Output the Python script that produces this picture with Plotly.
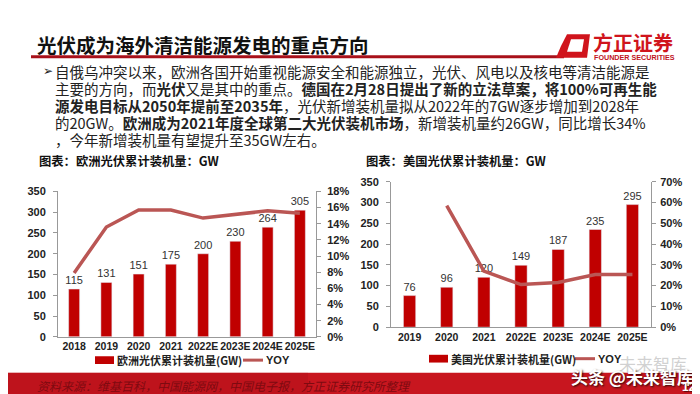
import plotly.graph_objects as go

W, H = 700, 394

# ---------------- data ----------------
eu_years = ["2018", "2019", "2020", "2021", "2022E", "2023E", "2024E", "2025E"]
eu_capacity = [115, 131, 151, 175, 200, 230, 264, 305]
eu_yoy = [7.9, 13.6, 15.7, 15.7, 14.7, 15.1, 15.6, 15.3]

us_years = ["2019", "2020", "2021", "2022E", "2023E", "2024E", "2025E"]
us_capacity = [76, 96, 120, 149, 187, 235, 295]
us_yoy = [None, 58.5, 27.0, 20.5, 21.5, 25.3, 25.3]

title_text = "光伏成为海外清洁能源发电的重点方向"
body_lines = [
    "自俄乌冲突以来，欧洲各国开始重视能源安全和能源独立，光伏、风电以及核电等清洁能源是",
    "主要的方向，而<b>光伏</b>又是其中的重点。<b>德国在2月28日提出了新的立法草案，将100%可再生能</b>",
    "<b>源发电目标从2050年提前至2035年</b>，光伏新增装机量拟从2022年的7GW逐步增加到2028年",
    "的20GW。<b>欧洲成为2021年度全球第二大光伏装机市场</b>，新增装机量约26GW，同比增长34%",
    "，今年新增装机量有望提升至35GW左右。",
]
eu_title = "图表：欧洲光伏累计装机量：GW"
us_title = "图表：美国光伏累计装机量：GW"
eu_bar_name = "欧洲光伏累计装机量(GW)"
us_bar_name = "美国光伏累计装机量(GW)"
line_name = "YOY"
source_text = "资料来源：维基百科，中国能源网，中国电子报，方正证券研究所整理"

# ---------------- styles ----------------
BAR = "#C00000"
LINE = "#BA5654"
AXIS = "#999999"
CJK = "Noto Sans CJK SC"
LAT = "Liberation Sans"


def px(x):
    return x / W


def py(y):
    return 1 - y / H


fig = go.Figure()

# Europe chart
fig.add_trace(go.Bar(x=eu_years, y=eu_capacity, name=eu_bar_name, marker_color=BAR,
                     width=0.34, text=eu_capacity, textposition="outside",
                     constraintext="none",
                     textfont=dict(family=LAT, size=11, color="#333"), cliponaxis=False,
                     xaxis="x", yaxis="y"))
fig.add_trace(go.Scatter(x=eu_years, y=eu_yoy, name=line_name, mode="lines",
                         line=dict(color=LINE, width=3.5), xaxis="x", yaxis="y2"))

# US chart
fig.add_trace(go.Bar(x=us_years, y=us_capacity, name=us_bar_name, marker_color=BAR,
                     width=0.33, text=us_capacity, textposition="outside",
                     constraintext="none",
                     textfont=dict(family=LAT, size=11, color="#333"), cliponaxis=False,
                     xaxis="x2", yaxis="y3"))
fig.add_trace(go.Scatter(x=us_years, y=us_yoy, name=line_name, mode="lines",
                         line=dict(color=LINE, width=3.5), connectgaps=False,
                         xaxis="x2", yaxis="y4"))

tickf = dict(family=LAT, size=11, color="#222", weight="bold")
tickx = dict(family=LAT, size=10.5, color="#222", weight="bold")
common_y = dict(showline=True, linecolor=AXIS, linewidth=1, ticks="outside", ticklen=4,
                tickcolor=AXIS, showgrid=False, zeroline=False, tickfont=tickf,
                fixedrange=True)
common_x = dict(type="category", showline=True, linecolor=AXIS, linewidth=1, ticks="",
                showgrid=False, tickfont=tickx, tickangle=0)

fig.update_layout(
    width=W, height=H, margin=dict(l=0, r=0, t=0, b=0),
    paper_bgcolor="white", plot_bgcolor="white", showlegend=False,
    bargap=0.6,
    xaxis=dict(domain=[px(50), px(308)], anchor="y", range=[-0.5, 7.5], **common_x),
    yaxis=dict(domain=[py(333), py(183)], anchor="x", range=[0, 350], dtick=50,
               ticklabelstandoff=5, **common_y),
    yaxis2=dict(overlaying="y", side="right", anchor="x", range=[0, 18], dtick=2,
                ticksuffix="%", ticklabelstandoff=4, **common_y),
    xaxis2=dict(domain=[px(383), px(643)], anchor="y3", range=[-0.5, 6.5], **common_x),
    yaxis3=dict(domain=[py(323), py(173)], anchor="x2", range=[0, 350], dtick=50,
                ticklabelstandoff=5, **common_y),
    yaxis4=dict(overlaying="y3", side="right", anchor="x2", range=[0, 70], dtick=10,
                ticksuffix="%", ticklabelstandoff=2, **common_y),
)

shapes = []
annos = []

# title + rule
annos.append(dict(x=px(27), y=py(31), xref="paper", yref="paper", xanchor="left",
                  yanchor="middle", showarrow=False, text="<b>" + title_text + "</b>",
                  font=dict(family=CJK, size=19.5, color="#111")))
shapes.append(dict(type="line", xref="paper", yref="paper", x0=px(23), x1=px(556),
                   y0=py(44), y1=py(44), line=dict(color="#A8101A", width=3)))

# logo
shapes.append(dict(type="path", xref="paper", yref="paper",
                   path=f"M {px(559)},{py(21)} L {px(582)},{py(21)} L {px(579)},{py(45)} "
                        f"L {px(548)},{py(45)} L {px(553)},{py(33)} Z",
                   fillcolor="#D0141C", line=dict(width=0)))
shapes.append(dict(type="path", xref="paper", yref="paper",
                   path=f"M {px(563)},{py(26)} L {px(576)},{py(26)} L {px(574)},{py(39)} "
                        f"L {px(559)},{py(39)} Z",
                   fillcolor="white", line=dict(width=0)))
annos.append(dict(x=px(583), y=py(29), xref="paper", yref="paper", xanchor="left",
                  yanchor="middle", showarrow=False, text="<b>方正证券</b>",
                  font=dict(family=CJK, size=20, color="#D0141C")))
annos.append(dict(x=px(584), y=py(45), xref="paper", yref="paper", xanchor="left",
                  yanchor="middle", showarrow=False, text="<b>FOUNDER SECURITIES</b>",
                  font=dict(family=LAT, size=7.2, color="#C0141C")))

# body text
annos.append(dict(x=px(33), y=py(59), xref="paper", yref="paper", xanchor="left",
                  yanchor="middle", showarrow=False, text="➢",
                  font=dict(family="DejaVu Sans", size=12, color="#222")))
for i, ln in enumerate(body_lines):
    annos.append(dict(x=px(45), y=py(59 + 17.5 * i), xref="paper", yref="paper",
                      xanchor="left", yanchor="middle", showarrow=False, text=ln,
                      font=dict(family=CJK, size=14.5, color="#222")))

# chart titles
annos.append(dict(x=px(29), y=py(152), xref="paper", yref="paper", xanchor="left",
                  yanchor="middle", showarrow=False, text="<b>" + eu_title + "</b>",
                  font=dict(family=CJK, size=12.3, color="#111")))
annos.append(dict(x=px(356), y=py(152), xref="paper", yref="paper", xanchor="left",
                  yanchor="middle", showarrow=False, text="<b>" + us_title + "</b>",
                  font=dict(family=CJK, size=12.3, color="#111")))

# legends (manual)
def legend(x_rect, y, name, x_line):
    shapes.append(dict(type="rect", xref="paper", yref="paper", x0=px(x_rect),
                       x1=px(x_rect + 19), y0=py(y + 4), y1=py(y - 4),
                       fillcolor=BAR, line=dict(width=0)))
    annos.append(dict(x=px(x_rect + 20), y=py(y), xref="paper", yref="paper",
                      xanchor="left", yanchor="middle", showarrow=False,
                      text="<b>" + name + "</b>",
                      font=dict(family=CJK, size=11, color="#222")))
    shapes.append(dict(type="line", xref="paper", yref="paper", x0=px(x_line),
                       x1=px(x_line + 20), y0=py(y), y1=py(y),
                       line=dict(color=LINE, width=3)))
    annos.append(dict(x=px(x_line + 21), y=py(y), xref="paper", yref="paper",
                      xanchor="left", yanchor="middle", showarrow=False,
                      text="<b>" + line_name + "</b>",
                      font=dict(family=LAT, size=11, color="#222")))

legend(87, 357, eu_bar_name, 235)
legend(421, 355.5, us_bar_name, 567)

# footer band
shapes.append(dict(type="rect", xref="paper", yref="paper", x0=0, x1=1, y0=0, y1=py(370),
                   fillcolor="#C8161F", line=dict(width=0), layer="below"))
shapes.append(dict(type="rect", xref="paper", yref="paper", x0=0, x1=px(300), y0=0,
                   y1=py(370), fillcolor="#A80E16", opacity=0.3, line=dict(width=0),
                   layer="below"))
annos.append(dict(x=px(27), y=py(383), xref="paper", yref="paper", xanchor="left",
                  yanchor="middle", showarrow=False, text="<i>" + source_text + "</i>",
                  font=dict(family=CJK, size=12, color="#7E0A10")))

# watermarks
annos.append(dict(x=px(645), y=py(360), xref="paper", yref="paper", xanchor="center",
                  yanchor="middle", showarrow=False, text="未来智库",
                  font=dict(family=CJK, size=17, color="rgba(170,170,170,0.55)")))
annos.append(dict(x=px(624), y=py(374), xref="paper", yref="paper", xanchor="center",
                  yanchor="middle", showarrow=False, text="<b>头条 @未来智库</b>",
                  font=dict(family=CJK, size=17, color="white",
                            shadow="1px 1px 2px rgba(0,0,0,0.8)")))
annos.append(dict(x=px(681), y=py(385), xref="paper", yref="paper", xanchor="center",
                  yanchor="middle", showarrow=False, text="<b>12</b>",
                  font=dict(family=LAT, size=12, color="white",
                            shadow="1px 1px 1px rgba(0,0,0,0.6)")))

fig.update_layout(shapes=shapes, annotations=annos)
fig.write_html("out.html")
